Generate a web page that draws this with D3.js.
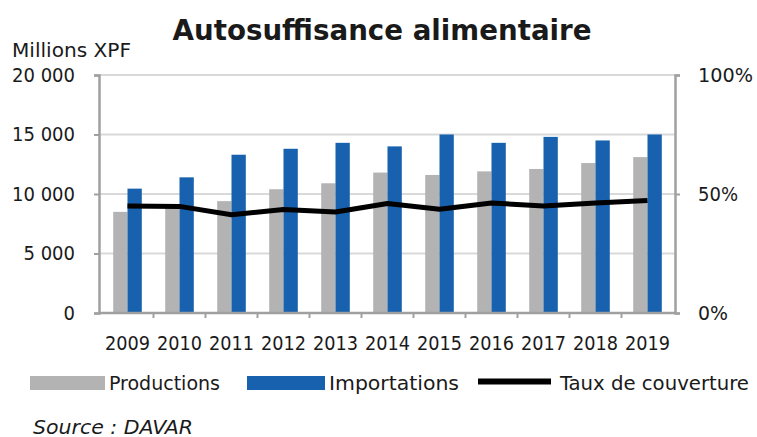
<!DOCTYPE html>
<html lang="fr">
<head>
<meta charset="UTF-8">
<script src="https://d3js.org/d3.v7.min.js"></script>
<style>
  body { margin: 0; background: #fff; }
  svg text { font-family: "DejaVu Sans Condensed", "DejaVu Sans", sans-serif; fill: #1a1a1a; }
</style>
</head>
<body>
<div id="chart"></div>
<script>
// Data
const years = ["2009", "2010", "2011", "2012", "2013", "2014", "2015", "2016", "2017", "2018", "2019"];
const productions = [8500, 9100, 9400, 10400, 10900, 11800, 11600, 11900, 12100, 12600, 13100];
const importations = [10450, 11400, 13300, 13800, 14300, 14000, 15000, 14300, 14800, 14500, 15000];
const taux = [45, 44.8, 41.3, 43.5, 42.4, 46, 43.6, 46.2, 45, 46.2, 47.3];
const leftTicks = [0, 5000, 10000, 15000, 20000];
const rightTicks = [0, 0.5, 1];

const width = 757, height = 437;
const m = { left: 99, right: 675, top: 75, bottom: 313 };
const grey = "#b3b3b3", blue = "#1761ae", axisCol = "#a0a0a0", gridCol = "#d9d9d9";

const fmt = d3.formatLocale({ decimal: ",", thousands: " ", grouping: [3], currency: ["", ""] }).format(",d");

const svg = d3.select("#chart").append("svg")
  .attr("width", width).attr("height", height);

const x = d3.scaleBand().domain(years).range([m.left + 2.5, m.right - 1.5]);
const y = d3.scaleLinear().domain([0, 20000]).range([m.bottom, m.top]);
const y2 = d3.scaleLinear().domain([0, 1]).range([m.bottom, m.top]);

const barW = 14.3;
const center = d => x(d) + x.bandwidth() / 2;

// Gridlines
svg.append("g").selectAll("line").data(leftTicks.slice(1)).join("line")
  .attr("x1", m.left).attr("x2", m.right)
  .attr("y1", d => y(d)).attr("y2", d => y(d))
  .attr("stroke", gridCol).attr("stroke-width", 2);

// Bars
svg.append("g").selectAll("rect").data(years).join("rect")
  .attr("x", d => center(d) - barW)
  .attr("y", (d, i) => y(productions[i]))
  .attr("width", barW)
  .attr("height", (d, i) => y(0) - y(productions[i]))
  .attr("fill", grey);

svg.append("g").selectAll("rect").data(years).join("rect")
  .attr("x", d => center(d))
  .attr("y", (d, i) => y(importations[i]))
  .attr("width", barW)
  .attr("height", (d, i) => y(0) - y(importations[i]))
  .attr("fill", blue);

// Taux de couverture line
const line = d3.line().x(d => center(d.year)).y(d => y2(d.v / 100));
svg.append("path")
  .datum(years.map((yr, i) => ({ year: yr, v: taux[i] })))
  .attr("d", line)
  .attr("fill", "none").attr("stroke", "#000").attr("stroke-width", 5)
  .attr("stroke-linejoin", "round");

// Axes
const leftAxis = svg.append("g").attr("transform", `translate(${m.left},0)`)
  .call(d3.axisLeft(y).tickValues(leftTicks).tickSize(5).tickFormat(fmt));
const rightAxis = svg.append("g").attr("transform", `translate(${m.right},0)`)
  .call(d3.axisRight(y2).tickValues(rightTicks).tickSize(5).tickFormat(d3.format(".0%")));
const bottomAxis = svg.append("g").attr("transform", `translate(0,${m.bottom})`)
  .call(d3.axisBottom(x).tickSize(0).tickPadding(23));

[leftAxis, rightAxis, bottomAxis].forEach(g => {
  g.select(".domain").attr("stroke", axisCol).attr("stroke-width", 2.5);
  g.selectAll(".tick line").attr("stroke", axisCol).attr("stroke-width", 2);
  g.selectAll(".tick text").attr("font-size", 20).attr("fill", "#1a1a1a")
    .attr("font-family", "\"DejaVu Sans Condensed\", \"DejaVu Sans\", sans-serif");
});
leftAxis.selectAll(".tick text").attr("x", -24);
rightAxis.selectAll(".tick text").attr("x", 23);
bottomAxis.selectAll(".tick text").attr("textLength", 45).attr("lengthAdjust", "spacingAndGlyphs");
rightAxis.selectAll(".tick text").attr("textLength", (d, i) => [30, 40, 55][i]).attr("lengthAdjust", "spacingAndGlyphs");
bottomAxis.select(".domain").attr("d", `M${m.left},0H${m.right}`);

// Category boundary ticks on x axis
bottomAxis.append("g").selectAll("line").data(years.slice(1)).join("line")
  .attr("x1", d => x(d)).attr("x2", d => x(d))
  .attr("y1", 0).attr("y2", 5)
  .attr("stroke", axisCol).attr("stroke-width", 2);

// Title and unit
svg.append("text")
  .attr("x", 382).attr("y", 40)
  .attr("text-anchor", "middle")
  .attr("font-size", 28).attr("font-weight", "bold")
  .attr("font-family", "\"DejaVu Sans\", sans-serif")
  .attr("textLength", 419).attr("lengthAdjust", "spacingAndGlyphs")
  .text("Autosuffisance alimentaire");

svg.append("text")
  .attr("x", 12).attr("y", 57)
  .attr("font-size", 20)
  .attr("textLength", 119).attr("lengthAdjust", "spacingAndGlyphs")
  .text("Millions XPF");

// Legend
const legend = svg.append("g");
const items = [
  { label: "Productions", color: grey, type: "rect", x: 30, w: 75, tw: 111 },
  { label: "Importations", color: blue, type: "rect", x: 247, w: 78, tw: 130 },
  { label: "Taux de couverture", color: "#000", type: "line", x: 478, w: 73, tw: 189 }
];
items.forEach(it => {
  if (it.type === "rect") {
    legend.append("rect").attr("x", it.x).attr("y", 376).attr("width", it.w).attr("height", 14).attr("fill", it.color);
  } else {
    legend.append("rect").attr("x", it.x).attr("y", 378.5).attr("width", it.w).attr("height", 6).attr("fill", it.color);
  }
  legend.append("text").attr("x", it.x + it.w + (it.type === "line" ? 9 : 4)).attr("y", 390)
    .attr("font-size", 20)
    .attr("textLength", it.tw).attr("lengthAdjust", "spacingAndGlyphs")
    .text(it.label);
});

// Source
svg.append("text")
  .attr("x", 33).attr("y", 434)
  .attr("font-size", 19).attr("font-style", "italic")
  .attr("textLength", 160).attr("lengthAdjust", "spacingAndGlyphs")
  .text("Source : DAVAR");
</script>
</body>
</html>
